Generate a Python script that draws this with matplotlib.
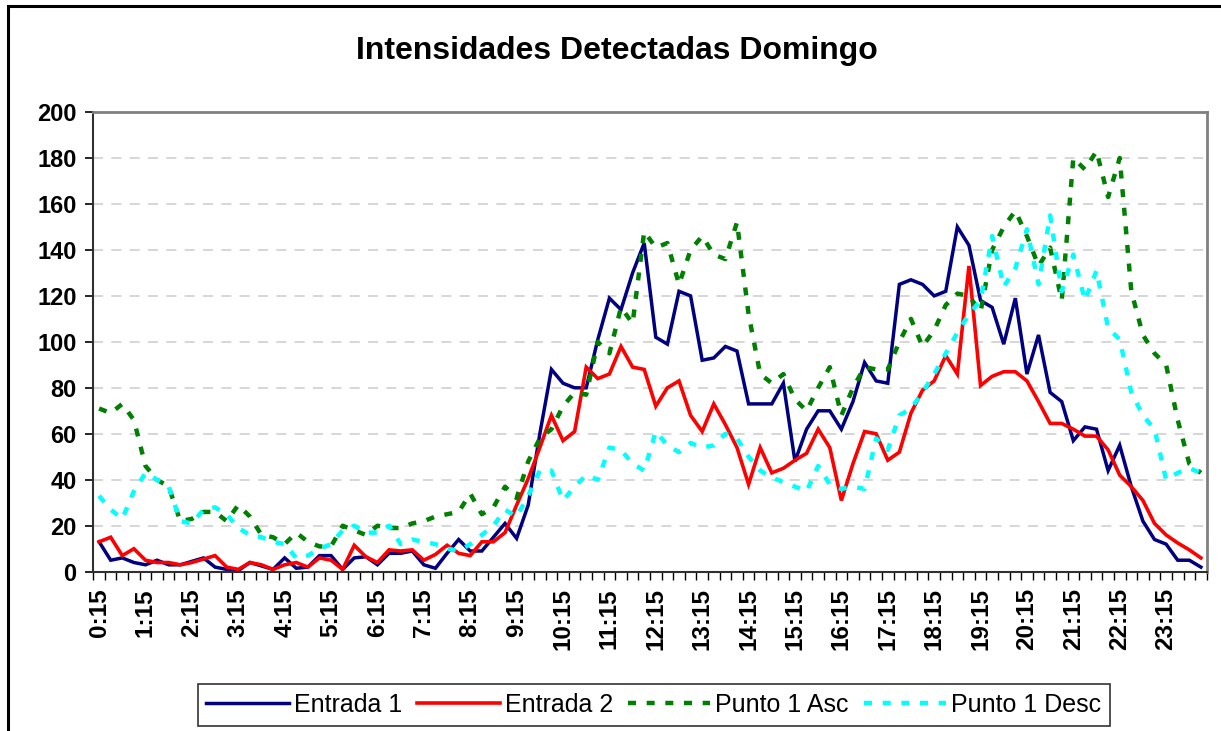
import matplotlib
matplotlib.use("Agg")
import matplotlib.pyplot as plt
from matplotlib.patches import Rectangle

# 15-minute slots, 0:15 .. 24:00
times = [f"{(m // 60)}:{m % 60:02d}" for m in range(15, 24 * 60 + 1, 15)]

entrada_1 = [13, 5, 6, 4, 3, 5, 3, 3, 4.5, 6, 2, 1, 0.5, 4, 2.5, 1, 6, 1.5, 2, 7, 7, 1, 6, 6.5,
             3, 8, 8, 9, 3, 1.5, 8, 14, 9, 9, 15, 21, 14.5, 29, 60, 88, 82, 80, 80, 101, 119, 114, 130, 143, 102, 99,
             122, 120, 92, 93, 98, 96, 73, 73, 73, 82, 48, 62, 70, 70, 62, 74, 91, 83, 82, 125, 127, 125, 120, 122,
             150, 142, 118, 115, 99, 119, 86, 103, 78, 74, 57, 63, 62, 44, 55, 37, 22, 14, 12, 5, 5, 2]

entrada_2 = [13, 15, 7, 10, 5, 4, 4, 3, 4, 5.5, 7, 2, 1, 4, 3, 1, 3, 4, 2, 6, 5, 1, 11.5, 6.5,
             4, 9.5, 9, 9.5, 5, 7.5, 11.5, 8, 7, 13, 13, 17, 29, 40.5, 54, 68, 57, 61, 89, 84, 86, 98, 89, 88, 72, 80,
             83, 68, 61, 73, 64, 54, 38, 54, 43, 45, 48.5, 51.5, 62, 54, 31, 47, 61, 60, 48.5, 52, 69, 79, 83, 94,
             86, 133, 81, 85, 87, 87, 83, 74, 64.5, 64.5, 62, 59, 59, 53, 42, 37, 31, 21, 16, 12.5, 9.5, 6]

punto_asc = [71, 69, 73, 66, 46, 40, 37, 22, 23, 26, 26, 22, 29, 24, 16, 15, 12, 17, 13, 11, 11, 20, 18, 16,
             20, 19, 19, 21, 22, 24, 25, 26, 34, 25, 28, 37, 32, 48, 58, 62, 72, 78, 77, 100, 95, 115, 108, 148, 141, 143,
             125, 140, 146, 138, 136, 152, 112, 86, 82, 86, 75, 70, 80, 89, 68, 80, 89, 88, 88, 100, 110, 98, 105, 116,
             121, 120, 113, 140, 150, 157, 146, 133, 141, 118, 180, 175, 183, 163, 180, 122, 103, 95, 90, 66, 47, 43]

punto_desc = [33, 27, 23, 35, 43, 40, 37, 22, 21, 27, 28, 25, 19, 16, 15, 13, 12, 6, 7, 10, 12, 18, 20, 17,
              17, 20, 12, 14, 13, 12, 10, 9, 12, 16, 20, 27, 24, 33, 44, 44, 31, 37, 42, 40, 54, 53, 47, 44, 61, 55,
              52, 56, 54, 55, 60, 58, 50, 44, 41, 39, 37, 35, 46, 38, 36, 37, 36, 58, 53, 68, 71, 78, 86, 95,
              104, 112, 118, 146, 124, 132, 149, 125, 155, 122, 138, 118, 131, 106, 101, 78, 68, 62, 40, 43, 45, 43]

series = [
    ("Entrada 1", entrada_1, "#000080", "-", 2.5),
    ("Entrada 2", entrada_2, "#FF0000", "-", 2.6),
    ("Punto 1 Asc", punto_asc, "#008000", (0, (1.8, 2.4)), 3.2),
    ("Punto 1 Desc", punto_desc, "#00FFFF", (0, (1.8, 2.4)), 3.2),
]

plt.rcParams["font.family"] = ["Liberation Sans", "DejaVu Sans"]

fig = plt.figure(figsize=(12.21, 7.31), dpi=100)
ax = fig.add_axes([93.3 / 1221, 159.3 / 731, 1113.4 / 1221, 459.7 / 731])

x = list(range(len(times)))
for name, vals, color, ls, lw in series:
    ax.plot(x, vals, color=color, linestyle=ls, linewidth=lw, label=name,
            solid_joinstyle="miter", dash_capstyle="butt")

ax.set_xlim(-0.5, len(times) - 0.5)
ax.set_ylim(0, 200)
ax.set_yticks(range(0, 201, 20))
ax.tick_params(axis="y", labelsize=17, length=6, width=1.2, direction="out", pad=6)
for lbl in ax.get_yticklabels():
    lbl.set_fontweight("bold")

ax.set_xticks(x[::4])
ax.set_xticklabels(times[::4], rotation=90, fontsize=17.5, fontweight="bold")
ax.set_xticks([i - 0.5 for i in range(len(times) + 1)], minor=True)
ax.tick_params(axis="x", which="major", length=0, pad=12)
ax.tick_params(axis="x", which="minor", length=6, width=1.0, direction="out")

ax.grid(axis="y", color="#D0D0D0", linestyle=(0, (6, 5)), linewidth=1.2)
ax.set_axisbelow(True)
for side in ("top", "right"):
    ax.spines[side].set_color("#808080")
    ax.spines[side].set_linewidth(2)
for side in ("left", "bottom"):
    ax.spines[side].set_color("#303030")
    ax.spines[side].set_linewidth(1.5)

fig.text(0.505, 1 - 51 / 731, "Intensidades Detectadas Domingo", ha="center", va="center",
         fontsize=23, fontweight="bold")

leg = fig.legend(loc="center", bbox_to_anchor=(654 / 1221, 1 - 705 / 731), ncol=4,
                 fontsize=18, frameon=True, fancybox=False, handlelength=3.3,
                 handletextpad=0.2, columnspacing=0.6, borderpad=0.35)
leg.get_frame().set_edgecolor("black")
leg.get_frame().set_linewidth(1.2)

# outer chart border (only left and top edges are visible in the crop)
fig.patches.append(Rectangle((8 / 1221, -0.1), 1.2, 1 - 6 / 731 + 0.1, transform=fig.transFigure,
                             fill=False, edgecolor="black", linewidth=2.2))

fig.savefig("out.png", dpi=100)
